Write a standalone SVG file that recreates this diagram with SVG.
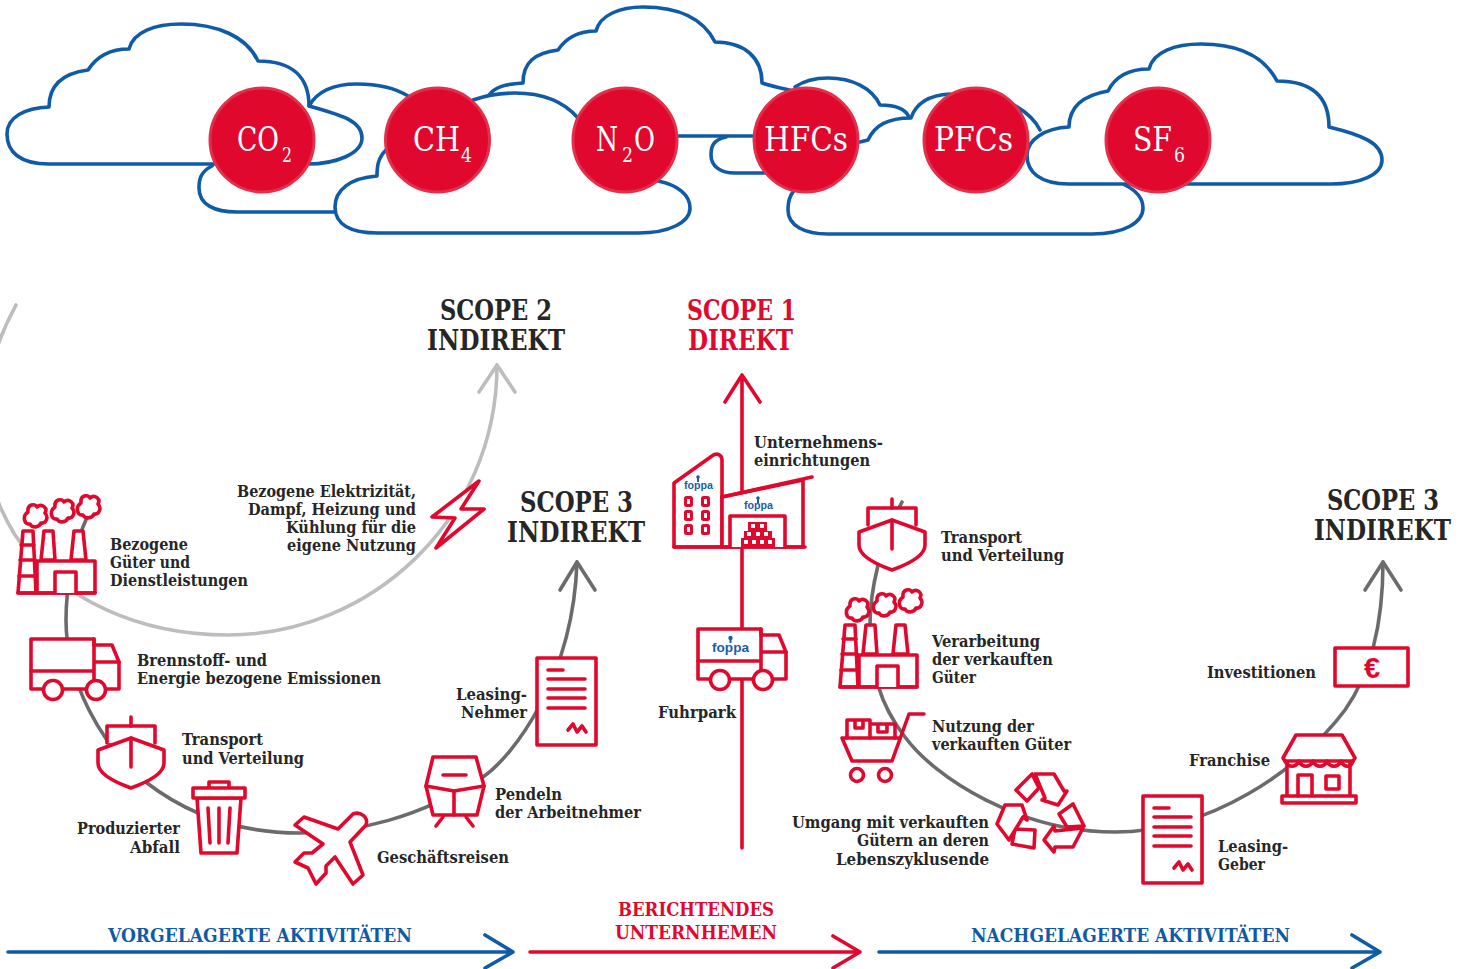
<svg xmlns="http://www.w3.org/2000/svg" width="1467" height="969" viewBox="0 0 1467 969">
<style>
text{font-family:"DejaVu Serif Condensed","DejaVu Serif","Liberation Serif",serif}
.l{font-size:16.5px;font-weight:700;fill:#262626}
.s{font-size:27px;font-weight:700;fill:#262626}
.sr{font-size:27px;font-weight:700;fill:#e1082d}
.b{font-size:19px;font-weight:700;fill:#0f5ba7}
.br{font-size:19px;font-weight:700;fill:#e1082d}
.c{font-size:33px;fill:#fff}
.cs{font-size:20px;fill:#fff}
.logo{font-family:"Liberation Sans",Arial,sans-serif;font-weight:700;fill:#1a5ea8}
.cl{fill:none;stroke:#0f5ba7;stroke-width:3.6;stroke-linejoin:round;stroke-linecap:round}
.dot{fill:#e1082d;stroke:#e2304a;stroke-width:3}
.i{fill:#fff;stroke:#e1082d;stroke-width:3.6;stroke-linejoin:round;stroke-linecap:round}
.n{fill:none;stroke:#e1082d;stroke-width:3.6;stroke-linejoin:round;stroke-linecap:round}
.dg{fill:none;stroke:#6b6b6b;stroke-width:3.6;stroke-linecap:round;stroke-linejoin:round}
.lg{fill:none;stroke:#bdbdbd;stroke-width:3.6;stroke-linecap:round;stroke-linejoin:round}
.rd{fill:none;stroke:#e1082d;stroke-width:3.6;stroke-linecap:round;stroke-linejoin:round}
.bl{fill:none;stroke:#0f5ba7;stroke-width:3.6;stroke-linecap:round;stroke-linejoin:round}
</style>
<defs>
<path id="puff" d="M-7-4C-8-12 0-13 2-9C7-13 13-8 10-3C14 1 11 8 6 7C4 12-3 12-5 8C-11 9-13 0-7-4Z"/>
<g id="factory">
<path class="i" d="M37 561H95V593H37Z"/>
<path class="i" d="M18 593L23 531H33L36 593Z"/>
<path class="n" d="M21 545H34M20 560H35M19 576H36M18 593H95"/>
<path class="i" d="M41 560L44 531H53L55 560Z"/>
<path class="i" d="M71 560L74 531H83L86 560Z"/>
<path class="i" d="M55 593V572H76V593"/>
<use href="#puff" class="i" x="35" y="516"/>
<use href="#puff" class="i" x="62" y="511"/>
<use href="#puff" class="i" x="88" y="507"/>
</g>
<g id="truck">
<path class="i" d="M94 645H112L119 662V689H31V639H94Z"/>
<path class="n" d="M94 639V689M31 671H94M94 662H119"/>
<circle class="i" cx="53" cy="690" r="9.500"/>
<circle class="i" cx="96" cy="690" r="9.500"/>
</g>
<g id="ship">
<path class="i" d="M107 743V726H155V743"/>
<path class="i" d="M98 750L131 738L164 750V763C164 775 145 783 131 788C117 783 98 775 98 763Z"/>
<path class="n" d="M131 717V726M131 738V767"/>
</g>
<g id="doc">
<rect class="i" x="537" y="658" width="59" height="87"/>
<path class="n" d="M548 670H563M548 679H585M548 689H585M548 698H585M548 708H585M568 730L573 724L577 732L582 726L586 732"/>
</g>
</defs>
<rect width="1467" height="969" fill="#fff"/>

<g id="clouds">
<path class="cl" d="M489 95C495 87 505 84 523 83C523 62 535 53 558 50C566 38 578 31 596 31C600 15 620 7 643 7C685 7 705 22 715 42C745 42 762 58 762 83C775 87 785 89 793 91"/>
<path class="cl" d="M678 136H755"/>
<path class="cl" d="M726 137C712 140 711 148 711 155C711 166 720 173 735 173H766"/>
<path class="cl" d="M309 106C318 90 335 84 357 84C378 84 395 88 408 96"/>
<path class="cl" d="M212 166C200 172 199 180 199 188C199 205 215 212 237 212H335"/>
<path class="cl" d="M49 107C49 84 65 73 88 70C97 56 110 49 129 49C133 32 155 24 181 24C218 24 247 37 258 61C292 61 309 77 309 106C340 115 362 120 362 138C362 154 335 164 308 164H49C20 164 7 152 7 134C7 117 25 108 49 107Z"/>
<path class="cl" d="M386 150C378 158 377 166 377 176C350 178 335 190 335 207C335 224 350 233 378 233H638C670 233 690 222 690 208C690 195 678 185 658 181"/>
<path class="cl" d="M473 100C490 94 505 93 515 93C545 93 565 103 578 118"/>
<path class="cl" d="M795 87C805 80 815 78 828 78C852 78 872 88 880 105C895 105 905 108 909 117"/>
<path class="cl" d="M860 142L868 140C875 125 888 118 911 118C916 103 930 95 950 94"/>
<path class="cl" d="M1014 105C1028 113 1035 120 1040 130"/>
<path class="cl" d="M793 192C788 198 788 205 788 210C788 226 805 234 828 234H1092C1125 234 1143 222 1143 208C1143 197 1135 190 1125 185"/>
<path class="cl" d="M1069 127C1069 106 1085 95 1108 91C1115 77 1128 69 1149 69C1153 52 1175 44 1201 44C1240 44 1265 58 1277 81C1312 81 1329 97 1329 127C1362 135 1382 143 1382 160C1382 175 1360 184 1331 184H1069C1040 184 1027 172 1027 155C1027 140 1045 128 1069 127Z"/>
</g>

<g id="connectors">
<path class="lg" d="M16 305C-30 390-25 470 15 535C60 600 140 635 228 635C370 635 497 520 497 365"/>
<path class="lg" d="M479 392L497 365L515 392"/>
<path class="dg" d="M88 515C72 550 66 590 66 620C66 680 100 745 147 783C190 816 240 833 300 833C355 833 420 818 483 777C512 757 573 680 577 562"/>
<path class="dg" d="M560 590L577 562L595 590"/>
<path class="dg" d="M902 502C880 545 870 590 870 625C870 670 880 705 905 737C935 778 1020 832 1115 832C1210 832 1300 770 1345 710C1372 672 1383 620 1383 562"/>
<path class="dg" d="M1365 590L1383 562L1401 590"/>
<path class="rd" d="M742 848V375M725 402L742 375L760 402"/>
<path class="bl" d="M8 952H512M485 935L513 952L485 968"/>
<path class="rd" d="M530 952H860M833 936L860 952L833 968"/>
<path class="bl" d="M879 952H1380M1352 935L1380 952L1352 968"/>
</g>

<g id="gas-co2"><circle class="dot" cx="262" cy="140" r="52"/><text class="c" x="237" y="151" textLength="42" lengthAdjust="spacingAndGlyphs">CO</text><text class="cs" x="282" y="162" textLength="10" lengthAdjust="spacingAndGlyphs">2</text></g>
<g id="gas-ch4"><circle class="dot" cx="437.500" cy="140" r="52"/><text class="c" x="413" y="151" textLength="47" lengthAdjust="spacingAndGlyphs">CH</text><text class="cs" x="461" y="162" textLength="11" lengthAdjust="spacingAndGlyphs">4</text></g>
<g id="gas-n2o"><circle class="dot" cx="625" cy="140" r="52"/><text class="c" x="596" y="151" textLength="22" lengthAdjust="spacingAndGlyphs">N</text><text class="cs" x="622" y="162" textLength="11" lengthAdjust="spacingAndGlyphs">2</text><text class="c" x="634" y="151" textLength="21" lengthAdjust="spacingAndGlyphs">O</text></g>
<g id="gas-hfcs"><circle class="dot" cx="806" cy="140" r="52"/><text class="c" x="764" y="151" textLength="84" lengthAdjust="spacingAndGlyphs">HFCs</text></g>
<g id="gas-pfcs"><circle class="dot" cx="976" cy="140" r="52"/><text class="c" x="934" y="151" textLength="79" lengthAdjust="spacingAndGlyphs">PFCs</text></g>
<g id="gas-sf6"><circle class="dot" cx="1158" cy="140" r="52"/><text class="c" x="1133" y="151" textLength="39" lengthAdjust="spacingAndGlyphs">SF</text><text class="cs" x="1174" y="162" textLength="11" lengthAdjust="spacingAndGlyphs">6</text></g>

<g id="scope2"><text class="s" x="440" y="320" textLength="112" lengthAdjust="spacingAndGlyphs">SCOPE 2</text><text class="s" x="427" y="350" textLength="138" lengthAdjust="spacingAndGlyphs">INDIREKT</text></g>
<g id="scope1"><text class="sr" x="687" y="320" textLength="109" lengthAdjust="spacingAndGlyphs">SCOPE 1</text><text class="sr" x="688" y="350" textLength="105" lengthAdjust="spacingAndGlyphs">DIREKT</text></g>
<g id="scope3-up"><text class="s" x="520" y="512" textLength="113" lengthAdjust="spacingAndGlyphs">SCOPE 3</text><text class="s" x="507" y="542" textLength="138" lengthAdjust="spacingAndGlyphs">INDIREKT</text></g>
<g id="scope3-down"><text class="s" x="1327" y="510" textLength="112" lengthAdjust="spacingAndGlyphs">SCOPE 3</text><text class="s" x="1314" y="540" textLength="137" lengthAdjust="spacingAndGlyphs">INDIREKT</text></g>

<g id="electricity">
<path class="i" d="M479 481L432 517L455 518L436 548L484 509L461 509Z"/>
<text class="l" x="237" y="497" textLength="179" lengthAdjust="spacingAndGlyphs">Bezogene Elektrizität,</text>
<text class="l" x="248" y="515" textLength="168" lengthAdjust="spacingAndGlyphs">Dampf, Heizung und</text>
<text class="l" x="286" y="533" textLength="130" lengthAdjust="spacingAndGlyphs">Kühlung für die</text>
<text class="l" x="287" y="551" textLength="129" lengthAdjust="spacingAndGlyphs">eigene Nutzung</text>
</g>
<g id="purchased-goods">
<use href="#factory"/>
<text class="l" x="110" y="550" textLength="78" lengthAdjust="spacingAndGlyphs">Bezogene</text>
<text class="l" x="110" y="568" textLength="80" lengthAdjust="spacingAndGlyphs">Güter und</text>
<text class="l" x="110" y="586" textLength="138" lengthAdjust="spacingAndGlyphs">Dienstleistungen</text>
</g>
<g id="fuel-energy">
<use href="#truck"/>
<text class="l" x="137" y="666" textLength="130" lengthAdjust="spacingAndGlyphs">Brennstoff- und</text>
<text class="l" x="137" y="684" textLength="244" lengthAdjust="spacingAndGlyphs">Energie bezogene Emissionen</text>
</g>
<g id="transport-up">
<use href="#ship"/>
<text class="l" x="182" y="745" textLength="81" lengthAdjust="spacingAndGlyphs">Transport</text>
<text class="l" x="182" y="764" textLength="122" lengthAdjust="spacingAndGlyphs">und Verteilung</text>
</g>
<g id="waste">
<path class="i" d="M197 798L201 853H237L241 798Z"/>
<path class="i" d="M209 787V782H229V787"/>
<rect class="i" x="193" y="788" width="52" height="10"/>
<path class="n" d="M208 808L210 843M219 808V843M230 808L228 843"/>
<text class="l" x="77" y="834" textLength="103" lengthAdjust="spacingAndGlyphs">Produzierter</text>
<text class="l" x="130" y="853" textLength="50" lengthAdjust="spacingAndGlyphs">Abfall</text>
</g>
<g id="business-travel">
<path class="i" d="M295 825L304 817L338 829L353 814C360 811 369 817 366 825L350 842L363 875L353 884L335 857L326 866V873L316 884L308 868L295 862L304 853H312L323 844Z"/>
<text class="l" x="377" y="863" textLength="132" lengthAdjust="spacingAndGlyphs">Geschäftsreisen</text>
</g>
<g id="commuting">
<path class="i" d="M433 757H476L484 786L477 815H433L426 786Z"/>
<path class="n" d="M426 786L454 791L484 786M454 791V815M443 775H466M443 817L436 826M466 817L473 826"/>
<text class="l" x="495" y="800" textLength="67" lengthAdjust="spacingAndGlyphs">Pendeln</text>
<text class="l" x="495" y="818" textLength="146" lengthAdjust="spacingAndGlyphs">der Arbeitnehmer</text>
</g>
<g id="leasing-lessee">
<use href="#doc"/>
<text class="l" x="456" y="700" textLength="71" lengthAdjust="spacingAndGlyphs">Leasing-</text>
<text class="l" x="461" y="718" textLength="66" lengthAdjust="spacingAndGlyphs">Nehmer</text>
</g>

<g id="facilities">
<path class="i" d="M674 547V483L712 456C717 452 722 455 722 460V547Z"/>
<path class="i" d="M722 497L803 480V547H722Z"/>
<path class="n" d="M722 497L812 477M674 547H805"/>
<path class="i" d="M730 547V516H785V547"/>
<path fill="#e1082d" d="M748 522H767V531H772V538H775V547H741V538H744V531H748Z"/>
<g fill="#fff"><rect x="751" y="524" width="4" height="4"/><rect x="760" y="524" width="4" height="4"/><rect x="747" y="532" width="4" height="4"/><rect x="756" y="532" width="4" height="4"/><rect x="764" y="532" width="4" height="4"/><rect x="744" y="540" width="4" height="4"/><rect x="752" y="540" width="4" height="4"/><rect x="760" y="540" width="4" height="4"/><rect x="768" y="540" width="4" height="4"/></g>
<g class="n" style="stroke-width:3"><rect x="685.500" y="497.500" width="6" height="8" rx="1"/><rect x="702.500" y="497.500" width="6" height="8" rx="1"/><rect x="685.500" y="511.500" width="6" height="8" rx="1"/><rect x="702.500" y="511.500" width="6" height="8" rx="1"/><rect x="685.500" y="525.500" width="6" height="8" rx="1"/><rect x="702.500" y="525.500" width="6" height="8" rx="1"/></g>
<circle cx="698" cy="477" r="1.800" fill="#1a5ea8"/><rect x="697" y="478" width="2" height="4" fill="#1a5ea8"/>
<text class="logo" x="684" y="489" font-size="10" textLength="29" lengthAdjust="spacingAndGlyphs">foppa</text>
<circle cx="758" cy="498" r="1.800" fill="#1a5ea8"/><rect x="757" y="499" width="2" height="4" fill="#1a5ea8"/>
<text class="logo" x="744" y="509" font-size="10" textLength="29" lengthAdjust="spacingAndGlyphs">foppa</text>
<text class="l" x="754" y="448" textLength="129" lengthAdjust="spacingAndGlyphs">Unternehmens-</text>
<text class="l" x="754" y="466" textLength="116" lengthAdjust="spacingAndGlyphs">einrichtungen</text>
</g>
<g id="fleet">
<use href="#truck" x="667" y="-10"/>
<circle cx="730.500" cy="638" r="2.200" fill="#1a5ea8"/><rect x="729.500" y="639" width="2" height="4" fill="#1a5ea8"/>
<text class="logo" x="712" y="652" font-size="13" textLength="37" lengthAdjust="spacingAndGlyphs">foppa</text>
<text class="l" x="658" y="718" textLength="78" lengthAdjust="spacingAndGlyphs">Fuhrpark</text>
</g>

<g id="transport-down">
<use href="#ship" x="761" y="-218"/>
<text class="l" x="941" y="543" textLength="81" lengthAdjust="spacingAndGlyphs">Transport</text>
<text class="l" x="941" y="561" textLength="123" lengthAdjust="spacingAndGlyphs">und Verteilung</text>
</g>
<g id="processing">
<use href="#factory" x="822" y="94"/>
<text class="l" x="932" y="647" textLength="108" lengthAdjust="spacingAndGlyphs">Verarbeitung</text>
<text class="l" x="932" y="665" textLength="121" lengthAdjust="spacingAndGlyphs">der verkauften</text>
<text class="l" x="932" y="683" textLength="44" lengthAdjust="spacingAndGlyphs">Güter</text>
</g>
<g id="use-of-products">
<path class="n" d="M847 738V720H870V738M870 724H895V738M855 720V728H863V720M878 724V732H887V724"/>
<path class="n" d="M842 738H900M842 738L852 761H892L909 714H924"/>
<circle class="n" cx="857" cy="775" r="6.500"/>
<circle class="n" cx="885" cy="775" r="6.500"/>
<text class="l" x="932" y="732" textLength="102" lengthAdjust="spacingAndGlyphs">Nutzung der</text>
<text class="l" x="932" y="750" textLength="139" lengthAdjust="spacingAndGlyphs">verkauften Güter</text>
</g>
<g id="end-of-life">
<path class="i" d="M1032 774L1016 790L1027 801L1039 788Z"/>
<path class="i" d="M1035 774H1054L1064 791L1067 791L1058 805L1042 800L1045 798Z"/>
<path class="i" d="M1073 804L1059 814L1067 827L1084 826Z"/>
<path class="i" d="M1083 828L1073 847H1055L1054 852L1044 840L1054 826L1055 831Z"/>
<path class="i" d="M1015 829L1035 830L1034 848L1012 844Z"/>
<path class="i" d="M997 824L1005 805H1022L1027 820L1023 817L1009 840Z"/>
<text class="l" x="792" y="828" textLength="197" lengthAdjust="spacingAndGlyphs">Umgang mit verkauften</text>
<text class="l" x="857" y="846" textLength="132" lengthAdjust="spacingAndGlyphs">Gütern an deren</text>
<text class="l" x="836" y="865" textLength="153" lengthAdjust="spacingAndGlyphs">Lebenszyklusende</text>
</g>
<g id="leasing-lessor">
<use href="#doc" x="606" y="138"/>
<text class="l" x="1218" y="852" textLength="70" lengthAdjust="spacingAndGlyphs">Leasing-</text>
<text class="l" x="1218" y="870" textLength="47" lengthAdjust="spacingAndGlyphs">Geber</text>
</g>
<g id="franchise">
<rect class="i" x="1287" y="760" width="63" height="38"/>
<path class="i" d="M1296 735H1342L1355 758L1353 761H1285L1283 758Z"/>
<path class="n" d="M1285 761C1288 768 1296 768 1299 761C1302 768 1310 768 1313 761C1316 768 1324 768 1327 761C1330 768 1338 768 1341 761C1344 768 1351 768 1353 761"/>
<rect class="i" x="1282" y="796" width="74" height="7"/>
<path class="n" d="M1298 796V775H1312V796"/>
<rect class="n" x="1326" y="776" width="13" height="13"/>
<text class="l" x="1189" y="766" textLength="81" lengthAdjust="spacingAndGlyphs">Franchise</text>
</g>
<g id="investments">
<rect class="i" x="1335" y="648" width="73" height="38"/>
<text x="1372" y="678" text-anchor="middle" font-size="29" font-weight="700" fill="#e1082d" style="font-family:'Liberation Sans',Arial,sans-serif">€</text>
<text class="l" x="1207" y="678" textLength="109" lengthAdjust="spacingAndGlyphs">Investitionen</text>
</g>

<g id="bands">
<text class="b" x="108" y="942" textLength="304" lengthAdjust="spacingAndGlyphs">VORGELAGERTE AKTIVITÄTEN</text>
<text class="br" x="618" y="916" textLength="156" lengthAdjust="spacingAndGlyphs">BERICHTENDES</text>
<text class="br" x="615" y="939" textLength="162" lengthAdjust="spacingAndGlyphs">UNTERNHEMEN</text>
<text class="b" x="971" y="942" textLength="319" lengthAdjust="spacingAndGlyphs">NACHGELAGERTE AKTIVITÄTEN</text>
</g>
</svg>
